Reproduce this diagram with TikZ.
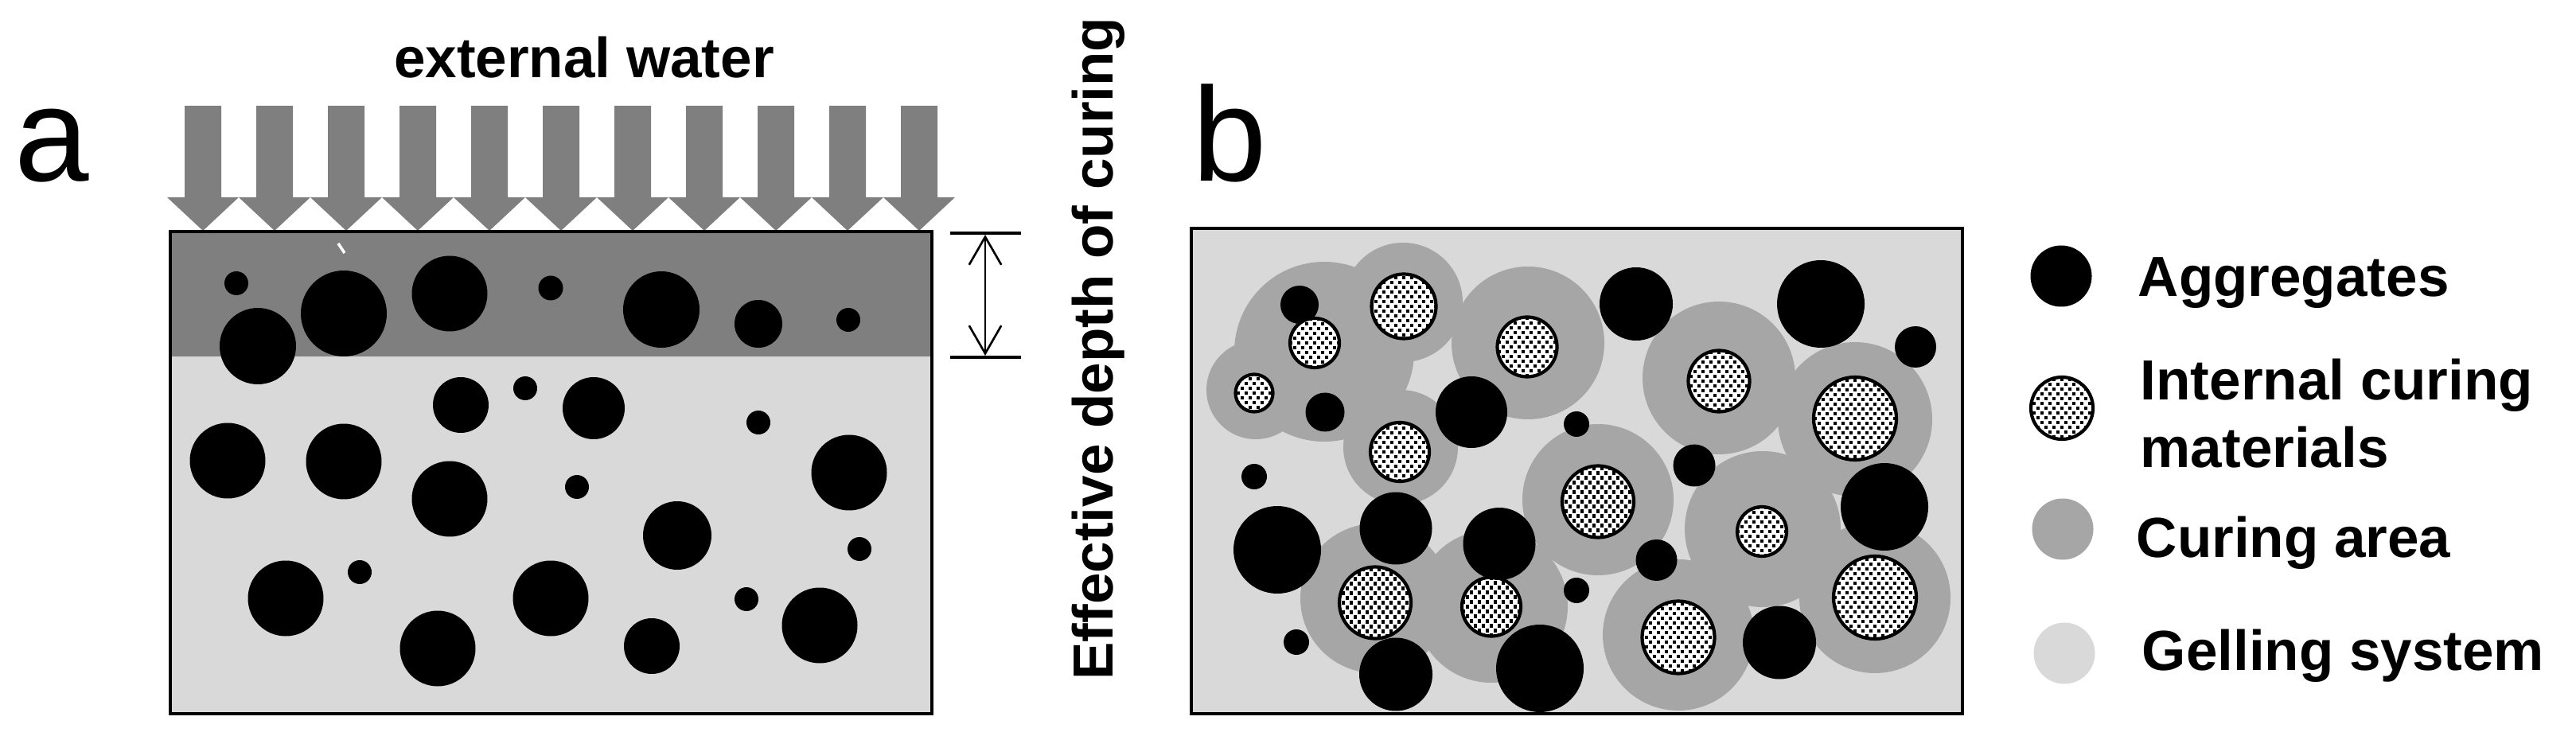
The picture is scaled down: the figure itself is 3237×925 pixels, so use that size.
\documentclass[tikz,border=0pt]{standalone}
\usepackage{fontspec}
\setmainfont{Liberation Sans}
\usetikzlibrary{arrows.meta}
\definecolor{dkgray}{HTML}{7F7F7F}
\definecolor{ltgray}{HTML}{D9D9D9}
\definecolor{mdgray}{HTML}{A6A6A6}
% internal curing material disk: x, y, outer radius
\newcommand\icmdisk[3]{%
  \begin{scope}
    \clip (#1,#2) circle[radius=#3-2];
    \fill[white] (#1,#2) circle[radius=#3];
    \pgfmathtruncatemacro\icmnx{#3/10+1}%
    \pgfmathtruncatemacro\icmny{#3/12+1}%
    \foreach \i in {-\icmnx,...,\icmnx}{%
      \foreach \j in {-\icmny,...,\icmny}{%
        \fill ({#1+10*\i-2.1},{#2+12*\j-2.1}) rectangle ++(4.2,4.2);
        \fill ({#1+10*\i+2.9},{#2+12*\j+3.9}) rectangle ++(4.2,4.2);
      }}
  \end{scope}
  \draw[icmline] (#1,#2) circle[radius=#3-2];
}
\begin{document}
\begin{tikzpicture}[x=0.01cm,y=-0.01cm,
  icmline/.style={line width=1.2pt,draw=black},
  boxline/.style={line width=1.1pt,draw=black},
  boldtext/.style={font=\fontsize{20.2pt}{24pt}\selectfont\bfseries,inner sep=0pt},
  legendtext/.style={boldtext,anchor=base west},
  panellabel/.style={font=\fontsize{47.8pt}{56pt}\selectfont,inner sep=0pt,anchor=base},
  dimtip/.style={{Straight Barb[length=10pt,width=11.5pt]}-{Straight Barb[length=10pt,width=11.5pt]}}
]
\useasboundingbox (0,0) rectangle (3237,925);

% ---------------- panel a ----------------
\node[panellabel] (la) at (65.5,228) {a};
\node[boldtext,anchor=base] (ew) at (734,98) {external water};

% block arrows
\foreach \k in {0,...,10}{
  \pgfmathsetmacro\cx{255+90*\k}
  \fill[dkgray] ({\cx-23},133) -- ({\cx+23},133) -- ({\cx+23},248) -- ({\cx+45},248)
     -- (\cx,290) -- ({\cx-45},248) -- ({\cx-23},248) -- cycle;
}

% specimen
\fill[ltgray] (214,291) rectangle (1171,897);
\fill[dkgray] (214,291) rectangle (1171,448);
\begin{scope}
  \clip (214,291) rectangle (1171,897);
  \foreach \cx/\cy/\r in {297/356/15, 432/394/54, 565/369/47.5, 692/362/15.5, 831/389/48,
      953/407/30, 1066/402/15, 324/435/48, 579/509/35, 660/488/15, 746/513/39, 953/531/15,
      286/579/47.5, 432/580/47.5, 565/627/47.5, 725/612/15, 1067/594/47.5, 851/673/43,
      1080/690/15, 359/752/47.5, 452/719/15, 692/752/47.5, 938/753/15, 1030/786/47.5,
      550/815/47.5, 819/812/35}
    \fill (\cx,\cy) circle[radius=\r];
\end{scope}
\draw[boxline] (214,291) rectangle (1171,897);
\draw[white,line width=1pt] (425,306) -- (433,318);

% effective depth marker
\draw[line width=1.4pt] (1194,293) -- (1283,293);
\draw[line width=1.4pt] (1194,449) -- (1283,449);
\coordinate (dtop) at (1238,295);
\coordinate (dbot) at (1238,447);
\draw[line width=0.75pt,dimtip] (dtop) -- (dbot);
\node[boldtext,rotate=90,anchor=base] (ed) at (1398,438) {Effective depth of curing};

% ---------------- panel b ----------------
\node[panellabel] (lb) at (1545,228) {b};
\fill[ltgray] (1497,287) rectangle (2466,897);
\begin{scope}
  \clip (1497,287) rectangle (2466,897);
  \foreach \cx/\cy/\r in {1763/380/75, 1664/442/113, 1578/490/62, 1760/562/72, 1920/431/96,
      2160/475/96, 2331/527/97, 2008/628/95, 2215/665/98, 2356/751/95, 1728/752/94,
      1874/762/96, 2109/798/95}
    \fill[mdgray] (\cx,\cy) circle[radius=\r];
  % aggregate lying under an internal curing particle
  \fill (1633,383) circle[radius=24];
  \icmdisk{1764}{385}{42.5}
  \icmdisk{1652}{431}{33}
  \icmdisk{1576}{494}{25.5}
  \icmdisk{1759}{568}{39}
  \icmdisk{1919}{436}{39.5}
  \icmdisk{2160}{479}{40.5}
  \icmdisk{2331}{526}{54}
  \icmdisk{2008}{630.5}{47}
  \icmdisk{2214}{668}{33}
  \icmdisk{2356}{751}{54}
  \icmdisk{1728}{757.5}{47}
  \icmdisk{1874}{762.5}{39}
  \icmdisk{2109}{801}{47.5}
  \foreach \cx/\cy/\r in {1665/518/24.5, 1849/518/45, 2056/382/46, 2288/382/55, 2407/436/26,
      1981/533/16, 1576/599/16, 2129/585/26.5, 2368/637/55, 1605/691/55, 1754/664/45.5,
      1884/683.5/45.5, 2081.5/704/26, 1981/742/16, 1629/807/16, 1754/847.5/46,
      1935/840/55, 2236/807.5/46}
    \fill (\cx,\cy) circle[radius=\r];
\end{scope}
\draw[boxline,line width=1.14pt] (1497,287) rectangle (2466,897);

% ---------------- legend ----------------
\fill (2590,347) circle[radius=38.5];
\icmdisk{2591}{513}{41}
\fill[mdgray] (2592,665) circle[radius=38.5];
\fill[ltgray] (2594,821) circle[radius=38.5];
\node[legendtext] (t1) at (2686,373) {Aggregates};
\node[legendtext] (t2) at (2689,503) {Internal curing};
\node[legendtext] (t3) at (2689,588) {materials};
\node[legendtext] (t4) at (2684,700) {Curing area};
\node[legendtext] (t5) at (2691,842) {Gelling system};
\end{tikzpicture}
\end{document}
